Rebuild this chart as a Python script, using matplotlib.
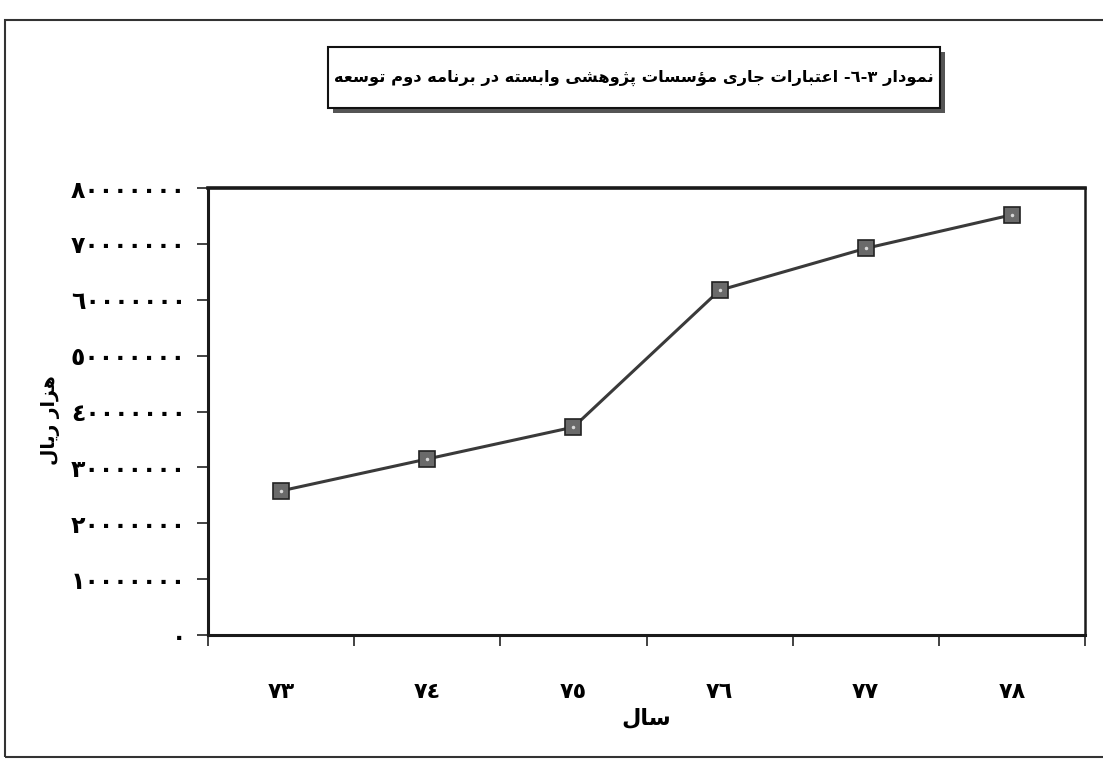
import matplotlib
matplotlib.use("Agg")
import matplotlib.pyplot as plt
from matplotlib.patches import Rectangle
from matplotlib.ticker import FixedLocator, FuncFormatter

# ---------------- data ----------------
years = ["٧٣", "٧٤", "٧٥", "٧٦", "٧٧", "٧٨"]
credits = [25800000, 31500000, 37200000, 61700000, 69200000, 75200000]
y_ticks = [0, 10000000, 20000000, 30000000, 40000000, 50000000, 60000000, 70000000, 80000000]
title_text = "نمودار ٣-٦- اعتبارات جاری مؤسسات پژوهشی وابسته در برنامه دوم توسعه"
x_label = "سال"
y_label = "هزار ریال"

# ------------- minimal Arabic/Persian shaper (visual order) -------------
FORMS = {
    '\u0627': ('\uFE8D', '\uFE8E', None, None),      # ا
    '\u0628': ('\uFE8F', '\uFE90', '\uFE91', '\uFE92'),  # ب
    '\u062A': ('\uFE95', '\uFE96', '\uFE97', '\uFE98'),  # ت
    '\u062C': ('\uFE9D', '\uFE9E', '\uFE9F', '\uFEA0'),  # ج
    '\u062F': ('\uFEA9', '\uFEAA', None, None),      # د
    '\u0631': ('\uFEAD', '\uFEAE', None, None),      # ر
    '\u0632': ('\uFEAF', '\uFEB0', None, None),      # ز
    '\u0633': ('\uFEB1', '\uFEB2', '\uFEB3', '\uFEB4'),  # س
    '\u0634': ('\uFEB5', '\uFEB6', '\uFEB7', '\uFEB8'),  # ش
    '\u0639': ('\uFEC9', '\uFECA', '\uFECB', '\uFECC'),  # ع
    '\u0644': ('\uFEDD', '\uFEDE', '\uFEDF', '\uFEE0'),  # ل
    '\u0645': ('\uFEE1', '\uFEE2', '\uFEE3', '\uFEE4'),  # م
    '\u0646': ('\uFEE5', '\uFEE6', '\uFEE7', '\uFEE8'),  # ن
    '\u0647': ('\uFEE9', '\uFEEA', '\uFEEB', '\uFEEC'),  # ه
    '\u0648': ('\uFEED', '\uFEEE', None, None),      # و
    '\u0624': ('\uFE85', '\uFE86', None, None),      # ؤ
    '\u067E': ('\uFB56', '\uFB57', '\uFB58', '\uFB59'),  # پ
    '\u0698': ('\uFB8A', '\uFB8B', None, None),      # ژ
    '\u06CC': ('\uFBFC', '\uFBFD', '\uFBFE', '\uFBFF'),  # ی
}


def shape(s):
    out = []
    n = len(s)
    for i, ch in enumerate(s):
        if ch not in FORMS:
            out.append(ch)
            continue
        prev = s[i - 1] if i > 0 else ''
        nxt = s[i + 1] if i + 1 < n else ''
        link_prev = prev in FORMS and FORMS[prev][2] is not None
        link_next = nxt in FORMS and FORMS[ch][2] is not None
        isol, fin, ini, med = FORMS[ch]
        if link_prev and link_next:
            out.append(med)
        elif link_prev:
            out.append(fin)
        elif link_next:
            out.append(ini)
        else:
            out.append(isol)
    return ''.join(reversed(out))


AR_DIGITS = str.maketrans("0123456789", "٠١٢٣٤٥٦٧٨٩")

plt.rcParams['font.family'] = ['DejaVu Sans']

W, H = 1103, 763
fig = plt.figure(figsize=(W / 100, H / 100), dpi=100)
fig.patch.set_facecolor('white')

# outer frame
fig.patches.append(Rectangle((5 / W, 1 - 757 / H), 1.2, (757 - 20) / H,
                             transform=fig.transFigure, fill=False,
                             edgecolor='#333333', linewidth=1.5))

ax_l, ax_r, ax_t, ax_b = 208, 1085, 188, 635
ax = fig.add_axes([ax_l / W, 1 - ax_b / H, (ax_r - ax_l) / W, (ax_b - ax_t) / H])

xs = list(range(len(years)))
ax.plot(xs, credits, color='#3a3a3a', linewidth=2.2, marker='s', markersize=11,
        markerfacecolor='#6a6a6a', markeredgecolor='#222222', markeredgewidth=1.2,
        zorder=3)
ax.plot(xs, credits, linestyle='none', marker='.', markersize=3,
        color='#d8d8d8', zorder=4)

ax.set_xlim(-0.5, len(years) - 0.5)
ax.set_ylim(0, 80000000)

ax.xaxis.set_major_locator(FixedLocator([i - 0.5 for i in range(len(years) + 1)]))
ax.xaxis.set_major_formatter(FuncFormatter(lambda v, p: ''))
ax.xaxis.set_minor_locator(FixedLocator(xs))
ax.xaxis.set_minor_formatter(FuncFormatter(lambda v, p: years[int(round(v))]))
ax.tick_params(axis='x', which='major', direction='out', length=8, width=1.2, color='#222222')
ax.tick_params(axis='x', which='minor', length=0, pad=34, labelsize=16)
for lab in ax.get_xticklabels(minor=True):
    lab.set_fontweight('bold')

ax.yaxis.set_major_locator(FixedLocator(y_ticks))
ax.yaxis.set_major_formatter(FuncFormatter(lambda v, p: str(int(v)).translate(AR_DIGITS)))
ax.tick_params(axis='y', direction='out', length=8, width=1.2, color='#222222',
               pad=8, labelsize=17)
for lab in ax.get_yticklabels():
    lab.set_fontweight('bold')

for side, lw in [('left', 2.2), ('bottom', 2.2), ('top', 2.6), ('right', 1.8)]:
    ax.spines[side].set_linewidth(lw)
    ax.spines[side].set_color('#1a1a1a')

ax.set_xlabel(shape(x_label), fontsize=16, fontweight='bold', labelpad=4)
ax.set_ylabel(shape(y_label), fontsize=13.5, fontweight='bold', labelpad=8, y=0.48)

# title box with shadow
bx0, bx1, by0, by1 = 328, 940, 47, 108
fig.patches.append(Rectangle(((bx0 + 5) / W, 1 - (by1 + 5) / H), (bx1 - bx0) / W, (by1 - by0) / H,
                             transform=fig.transFigure, facecolor='#555555', edgecolor='none'))
fig.patches.append(Rectangle((bx0 / W, 1 - by1 / H), (bx1 - bx0) / W, (by1 - by0) / H,
                             transform=fig.transFigure, facecolor='white',
                             edgecolor='#111111', linewidth=1.5))
fig.text((bx0 + bx1) / 2 / W, 1 - 78 / H, shape(title_text), ha='center', va='center',
         fontsize=11.7, fontweight='bold')

fig.savefig('out.png', dpi=100)
